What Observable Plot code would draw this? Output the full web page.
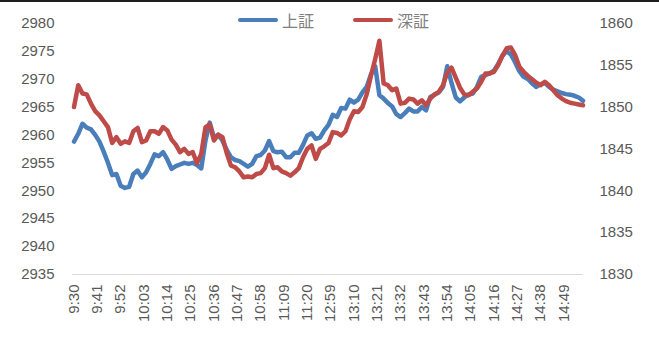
<!DOCTYPE html>
<html>
<head>
<meta charset="utf-8">
<script src="https://cdn.jsdelivr.net/npm/d3@7"></script>
<script src="https://cdn.jsdelivr.net/npm/@observablehq/plot@0.6"></script>
<style>
  html, body { margin: 0; padding: 0; background: #fff; }
  #wrap { position: relative; width: 659px; height: 338px; overflow: hidden; }
  #wrap svg { display: block; }
  #topline { position: absolute; left: 0; top: 0; width: 659px; height: 2px; background: #1e1e1e; }
  .key { position: absolute; top: 10px; height: 20px; display: flex; align-items: center;
         font-family: "Noto Sans CJK JP", "Noto Sans CJK SC", sans-serif; font-size: 16px; color: #808080; }
  .key span.sw { display: inline-block; width: 40px; height: 4px; border-radius: 2px; margin-right: 4px; }
</style>
</head>
<body>
<div id="wrap">
  <div id="topline"></div>
</div>
<script>
// Intraday index levels, one reading every two trading minutes (minute 0 = 9:30)
const shanghai = [
  2958.8, 2960.2, 2962.0, 2961.3, 2961.0, 2960.0, 2958.8, 2957.0, 2955.0, 2952.8,
  2953.0, 2950.9, 2950.5, 2950.7, 2953.0, 2953.6, 2952.4, 2953.3, 2954.8, 2956.5,
  2956.2, 2956.9, 2955.6, 2953.9, 2954.4, 2954.7, 2955.0, 2954.8, 2955.0, 2954.6,
  2954.0, 2959.0, 2962.2, 2959.5, 2960.0, 2959.0, 2957.3, 2956.0, 2955.5, 2955.3,
  2954.8, 2954.3, 2954.8, 2956.2, 2956.4, 2957.2, 2958.9, 2957.1, 2956.9, 2957.0,
  2956.0, 2956.0, 2956.8, 2956.8, 2958.2, 2959.9, 2960.3, 2959.3, 2959.5, 2960.8,
  2961.8, 2963.6, 2963.2, 2964.8, 2964.7, 2966.3, 2965.8, 2966.3, 2967.6, 2968.6,
  2970.8, 2972.3, 2967.1, 2966.5, 2965.7, 2965.1, 2963.7, 2963.2, 2963.9, 2964.7,
  2964.2, 2964.2, 2965.0, 2964.4, 2966.8, 2967.2, 2967.6, 2968.6, 2972.3, 2969.3,
  2966.7, 2966.0, 2966.7, 2967.2, 2967.4, 2968.6, 2970.4, 2970.7, 2971.0, 2971.5,
  2972.7, 2974.2, 2975.0, 2974.4, 2973.0, 2971.4, 2970.4, 2970.0, 2969.2, 2968.6,
  2969.1, 2969.3, 2968.6, 2968.1, 2967.8, 2967.5, 2967.3, 2967.2, 2967.0, 2966.7,
  2966.1
];
const shenzhen = [
  1850.0, 1852.6, 1851.6, 1851.5, 1850.4, 1849.5, 1849.0, 1848.3, 1847.6, 1845.7,
  1846.4, 1845.6, 1845.9, 1845.7, 1847.1, 1847.5, 1845.8, 1846.0, 1847.1, 1847.1,
  1846.8, 1847.6, 1847.2, 1846.1, 1845.5, 1844.6, 1845.0, 1844.4, 1844.6, 1843.3,
  1844.4, 1847.6, 1847.9, 1846.0, 1846.7, 1846.4, 1844.5, 1843.0, 1842.8, 1842.3,
  1841.6, 1841.7, 1841.6, 1842.0, 1842.1, 1842.7, 1844.3, 1842.7, 1842.8, 1842.3,
  1842.1, 1841.8, 1842.2, 1842.7, 1844.0, 1845.0, 1845.4, 1843.8, 1845.0, 1845.3,
  1845.7, 1847.0, 1846.9, 1846.6, 1847.1, 1848.5, 1849.5, 1849.4, 1850.0, 1851.5,
  1853.7, 1855.7, 1857.9, 1852.8, 1852.6, 1852.0, 1852.2, 1850.4, 1850.5, 1851.0,
  1850.9, 1850.4, 1850.8, 1850.2, 1851.0, 1851.5, 1851.8, 1852.6, 1854.1, 1854.7,
  1853.5, 1852.3, 1851.5, 1851.4, 1851.8, 1852.2, 1853.0, 1854.0, 1854.0, 1854.2,
  1855.0, 1856.1, 1857.0, 1857.1, 1856.2, 1854.8, 1854.2, 1853.7, 1853.3, 1852.9,
  1852.6, 1853.0, 1852.6, 1852.0, 1851.4, 1851.0, 1850.7, 1850.5, 1850.4, 1850.3,
  1850.2
];

// Category labels shown on the time axis, one every 11 minutes
const timeLabels = ["9:30", "9:41", "9:52", "10:03", "10:14", "10:25", "10:36", "10:47",
  "10:58", "11:09", "11:20", "12:59", "13:10", "13:21", "13:32", "13:43", "13:54",
  "14:05", "14:16", "14:27", "14:38", "14:49"];
const labelStep = 11;
const lastMinute = 240;

const leftTicks = [2935, 2940, 2945, 2950, 2955, 2960, 2965, 2970, 2975, 2980];
const rightTicks = [1830, 1835, 1840, 1845, 1850, 1855, 1860];
const leftDomain = [2935, 2980];
const rightDomain = [1830, 1860];

const seriesNames = ["上証", "深証"];
const colors = ["#4a7ebb", "#be4b48"];

// Secondary axis: map Shenzhen values onto the primary scale
const k = (leftDomain[1] - leftDomain[0]) / (rightDomain[1] - rightDomain[0]);
const toLeft = v => leftDomain[0] + (v - rightDomain[0]) * k;
const fromLeft = v => rightDomain[0] + (v - leftDomain[0]) / k;

const sh = shanghai.map((v, j) => ({minute: 2 * j, value: v}));
const sz = shenzhen.map((v, j) => ({minute: 2 * j, value: v}));
const tickMinutes = timeLabels.map((_, i) => i * labelStep);

const font = "'Liberation Sans', Arial, sans-serif";

const chart = Plot.plot({
  width: 659,
  height: 338,
  marginLeft: 73.5,
  marginRight: 76.5,
  marginTop: 22.7,
  marginBottom: 64,
  x: {domain: [0, lastMinute], axis: null},
  y: {domain: leftDomain, axis: null},
  style: {fontFamily: font, fontSize: "15px", color: "#595959", background: "#fff", overflow: "visible"},
  marks: [
    Plot.axisY(leftTicks, {anchor: "left", tickSize: 0, tickPadding: 19.5, label: null,
      fontSize: 15, fill: "#595959", tickFormat: d => String(d)}),
    Plot.axisY(rightTicks.map(toLeft), {anchor: "right", tickSize: 0, tickPadding: 16.5, label: null,
      fontSize: 15, fill: "#595959", tickFormat: d => String(Math.round(fromLeft(d)))}),
    Plot.axisX(tickMinutes, {anchor: "bottom", tickSize: 0, tickPadding: 10, tickRotate: -90, label: null,
      fontSize: 15, fill: "#595959", tickFormat: d => timeLabels[Math.round(d / labelStep)]}),
    Plot.ruleY([leftDomain[0]], {stroke: "#d9d9d9", strokeWidth: 1, insetLeft: -1.5}),
    Plot.line(sh, {x: "minute", y: "value", stroke: colors[0], strokeWidth: 4.5,
      strokeLinejoin: "round", strokeLinecap: "round"}),
    Plot.line(sz, {x: "minute", y: d => toLeft(d.value), stroke: colors[1], strokeWidth: 4.5,
      strokeLinejoin: "round", strokeLinecap: "round"})
  ]
});

const wrap = document.getElementById("wrap");
wrap.insertBefore(chart, wrap.firstChild);

// Series key along the top edge
const keyLeft = [238, 353];
seriesNames.forEach((name, i) => {
  const item = document.createElement("div");
  item.className = "key";
  item.style.left = keyLeft[i] + "px";
  const sw = document.createElement("span");
  sw.className = "sw";
  sw.style.background = colors[i];
  item.appendChild(sw);
  item.appendChild(document.createTextNode(name));
  wrap.appendChild(item);
});
</script>
</body>
</html>
